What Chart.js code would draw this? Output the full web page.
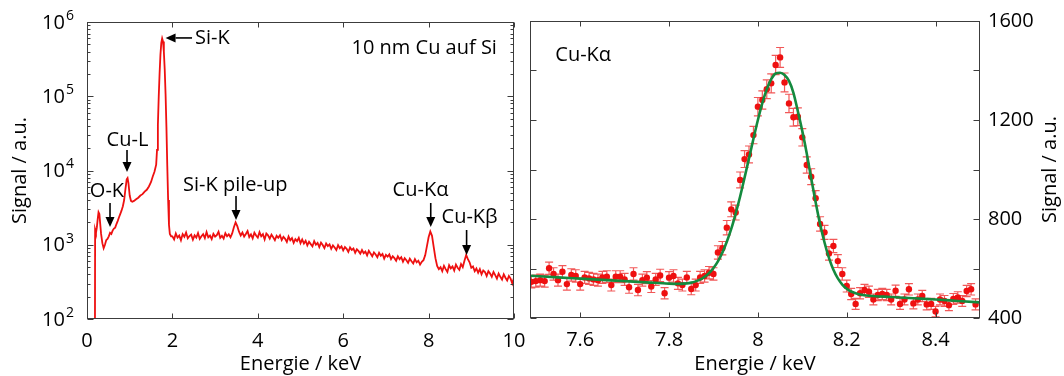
<!DOCTYPE html>
<html>
<head>
<meta charset="utf-8">
<script src="https://cdn.jsdelivr.net/npm/chart.js@4.4.1/dist/chart.umd.min.js"></script>
<style>
html,body{margin:0;padding:0;background:#fff;}
#wrap{position:relative;width:1064px;height:376px;overflow:hidden;}
#wrap canvas{position:absolute;left:0;top:0;}
</style>
</head>
<body>
<div id="wrap">
<canvas id="leftChart" width="1064" height="376"></canvas>
<canvas id="rightChart" width="1064" height="376"></canvas>
</div>
<script>
// ---------------- DATA ----------------
// Left panel: full EDX spectrum (energy in keV, signal in a.u.)
const spectrumEnergy = [
0.185,0.19,0.21,0.23,0.25,0.27,0.29,0.31,0.33,0.36,0.39,0.42,0.45,0.48,0.51,0.54,0.57,0.60,0.63,0.66,
0.69,0.72,0.75,0.78,0.81,0.84,0.87,0.90,0.93,0.95,0.97,1.00,1.03,1.06,1.10,1.15,1.20,1.25,1.30,1.35,
1.40,1.45,1.50,1.54,1.58,1.62,1.64,1.66,1.68,1.70,1.72,1.74,1.76,1.78,1.80,1.82,1.84,1.86,1.88,1.90,
1.92,1.94,1.97,
2.00,2.04,2.08,2.12,2.16,2.20,2.24,2.28,2.32,2.36,2.40,2.44,2.48,2.52,2.56,2.60,2.64,2.68,2.72,2.76,
2.80,2.84,2.88,2.92,2.96,3.00,3.04,3.08,3.12,3.16,3.20,3.24,3.28,3.32,3.36,
3.40,3.44,3.48,3.52,3.56,3.60,
3.64,3.68,3.72,3.76,3.80,3.84,3.88,3.92,3.96,4.00,4.04,4.08,4.12,4.16,4.20,4.24,4.28,4.32,4.36,4.40,
4.44,4.48,4.52,4.56,4.60,4.64,4.68,4.72,4.76,4.80,4.84,4.88,4.92,4.96,5.00,
5.04,5.08,5.12,5.16,5.20,5.24,5.28,5.32,5.36,5.40,5.44,5.48,5.52,5.56,5.60,5.64,5.68,5.72,5.76,5.80,
5.84,5.88,5.92,5.96,6.00,6.04,6.08,6.12,6.16,6.20,6.24,6.28,6.32,6.36,6.40,
6.44,6.48,6.52,6.56,6.60,6.64,6.68,6.72,6.76,6.80,6.84,6.88,6.92,6.96,7.00,7.04,7.08,7.12,7.16,7.20,
7.24,7.28,7.32,7.36,7.40,7.44,7.48,7.52,7.56,7.60,7.64,7.68,7.72,7.76,7.80,
7.84,7.88,7.92,7.96,8.00,8.04,8.08,8.12,8.16,8.20,8.24,
8.28,8.32,8.36,8.40,8.44,8.48,8.52,8.56,8.60,8.64,8.68,8.72,8.76,8.80,
8.84,8.88,8.92,8.96,9.00,
9.04,9.08,9.12,9.16,9.20,9.24,9.28,9.32,9.36,9.40,9.44,9.48,9.52,9.56,9.60,9.64,9.68,9.72,9.76,9.80,
9.84,9.88,9.92,9.96,10.00
];
const spectrumSignal = [
20,1600,1450,1700,2200,2750,2600,1900,1400,1050,900,1000,1150,1200,1300,1450,1400,1550,1650,1700,
1900,2100,2350,2600,2900,3300,4000,5600,7600,7900,6800,4600,3900,3800,3900,4100,4300,4600,4800,5200,
5500,6100,7000,8300,9600,12000,19000,41000,99000,202000,364000,523000,600000,547000,398000,231000,107000,39000,11600,4000,
1850,1400,1300,
1300,1180,1420,1250,1330,1150,1390,1280,1460,1220,1310,1370,1170,1340,1250,1440,1200,1300,1390,1230,
1480,1260,1330,1190,1400,1290,1350,1500,1240,1320,1210,1430,1300,1380,1260,
1420,1720,2000,1780,1500,1330,
1460,1290,1400,1530,1270,1380,1220,1450,1330,1250,1480,1300,1390,1180,1420,1340,1210,1370,1260,1150,
1320,1240,1340,1160,1280,1200,1090,1290,1150,1230,1060,1190,1120,1240,1050,
1180,1040,1130,980,1100,1020,950,1120,1000,1060,930,1070,990,900,1040,960,1010,880,980,920,
850,990,900,950,840,930,880,800,920,850,890,780,870,820,760,
850,770,810,720,830,760,700,790,740,680,780,710,750,650,730,690,740,640,700,660,
610,700,640,680,590,660,620,570,650,600,560,640,580,610,540,
590,620,720,950,1260,1510,1320,930,660,520,470,
500,440,520,470,430,530,480,510,450,540,490,460,550,500,
610,730,640,580,490,
510,440,480,420,470,400,450,430,380,440,410,370,430,390,350,410,370,340,400,360,
330,380,350,300,360
];

// Right panel: Cu-Kα detail, measured points with error bars and fit
const kaEnergy = [
7.49,7.50,7.51,7.52,7.53,7.54,7.55,7.56,7.57,7.58,7.59,7.60,7.61,7.62,7.63,7.64,7.65,7.66,7.67,7.68,
7.69,7.70,7.71,7.72,7.73,7.74,7.75,7.76,7.77,7.78,7.79,7.80,7.81,7.82,7.83,7.84,7.85,7.86,7.87,7.88,
7.89,7.90,7.91,7.92,7.93,7.94,7.95,7.96,7.97,7.98,7.99,8.00,8.01,8.02,8.03,8.04,8.05,8.06,8.07,8.08,
8.09,8.10,8.11,8.12,8.13,8.14,8.15,8.16,8.17,8.18,8.19,8.20,8.21,8.22,8.23,8.24,8.25,8.26,8.27,8.28,
8.29,8.30,8.31,8.32,8.33,8.34,8.35,8.36,8.37,8.38,8.39,8.40,8.41,8.42,8.43,8.44,8.45,8.46,8.47,8.48,
8.49
];
const kaSignal = [
546,549,553,549,601,578,553,587,537,574,570,537,564,560,556,553,564,567,533,567,
567,556,524,578,513,553,563,527,556,572,500,563,570,540,533,564,517,533,564,570,
583,578,665,682,765,839,826,958,1042,1061,1139,1254,1281,1324,1348,1422,1453,1352,1267,1211,
1213,1130,1018,971,884,780,746,661,691,630,578,529,497,457,500,513,506,475,493,497,
493,475,510,457,475,516,459,475,489,455,457,426,475,469,452,477,483,469,509,516,
455
];
const kaError = [
24,24,24,24,25,25,24,25,24,25,25,24,24,24,24,24,24,24,24,24,
24,24,24,25,23,24,24,24,24,25,23,24,25,24,24,24,23,24,24,25,
25,25,27,27,29,30,30,32,34,34,35,37,37,38,38,39,40,38,37,36,
36,35,33,32,31,29,28,27,27,26,25,24,23,22,23,23,23,22,23,23,
23,22,23,22,22,23,22,22,23,22,22,21,22,22,22,22,23,22,23,23,
22
];
const fitEnergy = [
7.487,7.55,7.60,7.65,7.70,7.75,7.80,7.82,7.84,7.85,7.86,7.87,7.88,7.89,
7.90,7.91,7.92,7.93,7.94,7.95,7.96,7.97,7.98,7.99,
8.00,8.01,8.02,8.03,8.04,8.05,8.06,8.07,8.08,8.09,
8.10,8.11,8.12,8.13,8.14,8.15,8.16,8.17,8.18,8.19,
8.20,8.21,8.22,8.23,8.24,8.25,8.30,8.35,8.40,8.45,8.50
];
const fitSignal = [
571,564,559,554,549,544,539,538,540,543,548,555,566,581,
602,629,664,708,760,822,891,967,1045,1124,
1200,1268,1324,1365,1388,1391,1382,1358,1310,1235,
1155,1065,965,868,780,705,643,595,560,535,
518,507,500,495,492,490,485,480,475,469,463
];

// Tick values and labels
const leftXTicks = [0, 2, 4, 6, 8, 10];
const leftXLabels = ['0', '2', '4', '6', '8', '10'];
const leftYTicks = [1e2, 1e3, 1e4, 1e5, 1e6];
const leftYExponents = ['2', '3', '4', '5', '6'];
const rightXTicks = [7.6, 7.8, 8.0, 8.2, 8.4];
const rightXLabels = ['7.6', '7.8', '8', '8.2', '8.4'];
const rightYTicks = [400, 600, 800, 1000, 1200, 1400, 1600];
const rightYLabels = ['400', '', '800', '', '1200', '', '1600'];

// Peak annotations (labels) for left panel
const peakLabels = ['O-K', 'Cu-L', 'Si-K', 'Si-K pile-up', 'Cu-K\u03B1', 'Cu-K\u03B2'];

// ---------------- LAYOUT / STYLE ----------------
const FONT = '"Open Sans", "DejaVu Sans", sans-serif';
const AXIS_COLOR = '#3c3c3c';
const RED = 'rgb(238,16,16)';
const GREEN = 'rgb(20,138,62)';

Chart.defaults.font.family = FONT;
Chart.defaults.font.size = 20;
Chart.defaults.color = '#000';

// annotation geometry in data coordinates (keV, signal)
const peakLabelPos = [
  {tx:0.468, ty:5300, align:'center', ax:0.539, from:3650, to:1730},
  {tx:0.948, ty:25800, align:'center', ax:0.937, from:18900, to:9550},
  {tx:2.53, ty:610000, align:'left', horiz:true, ay:610000, from:2.46, to:1.84},
  {tx:2.25, ty:6380, align:'left', ax:3.49, from:4540, to:2150},
  {tx:7.81, ty:5460, align:'center', ax:8.05, from:3650, to:1730},
  {tx:8.96, ty:2370, align:'center', ax:8.89, from:1580, to:728}
];

function drawArrow(ctx, x1, y1, x2, y2) {
  const ang = Math.atan2(y2 - y1, x2 - x1);
  const hl = 10, hw = 4.5;
  const bx = x2 - hl * Math.cos(ang), by = y2 - hl * Math.sin(ang);
  ctx.beginPath();
  ctx.moveTo(x1, y1);
  ctx.lineTo(bx, by);
  ctx.lineWidth = 1.6;
  ctx.strokeStyle = '#000';
  ctx.stroke();
  ctx.beginPath();
  ctx.moveTo(x2, y2);
  ctx.lineTo(bx + hw * Math.sin(ang), by - hw * Math.cos(ang));
  ctx.lineTo(bx - hw * Math.sin(ang), by + hw * Math.cos(ang));
  ctx.closePath();
  ctx.fillStyle = '#000';
  ctx.fill();
}

function frameRect(ctx, a) {
  const L = Math.round(a.left) + 0.5, R = Math.round(a.right) - 0.5;
  const T = Math.round(a.top) + 0.5, B = Math.round(a.bottom) - 0.5;
  ctx.strokeStyle = AXIS_COLOR;
  ctx.lineWidth = 1;
  ctx.strokeRect(L, T, R - L, B - T);
  return {L, R, T, B};
}

const leftDecor = {
  id: 'leftDecor',
  afterDraw(chart) {
    const {ctx, chartArea: a, scales: {x, y}} = chart;
    ctx.save();
    const {L, R, T, B} = frameRect(ctx, a);
    ctx.beginPath();
    leftXTicks.forEach(v => {
      const px = Math.round(x.getPixelForValue(v)) + 0.5;
      ctx.moveTo(px, B); ctx.lineTo(px, B - 5);
      ctx.moveTo(px, T); ctx.lineTo(px, T + 5);
    });
    leftYTicks.forEach((v, i) => {
      const py = Math.round(y.getPixelForValue(v)) + 0.5;
      ctx.moveTo(L, py); ctx.lineTo(L + 6, py);
      ctx.moveTo(R, py); ctx.lineTo(R - 6, py);
      if (i < leftYTicks.length - 1) {
        for (let m = 2; m <= 9; m++) {
          const q = Math.round(y.getPixelForValue(v * m)) + 0.5;
          ctx.moveTo(L, q); ctx.lineTo(L + 3, q);
          ctx.moveTo(R, q); ctx.lineTo(R - 3, q);
        }
      }
    });
    ctx.stroke();

    // y tick labels 10^n
    ctx.fillStyle = '#000';
    ctx.textBaseline = 'middle';
    leftYTicks.forEach((v, i) => {
      const py = y.getPixelForValue(v);
      const right = a.left - 13;
      ctx.font = '14px ' + FONT;
      const sw = ctx.measureText(leftYExponents[i]).width;
      ctx.textAlign = 'left';
      ctx.fillText(leftYExponents[i], right - sw, py - 6);
      ctx.font = '20px ' + FONT;
      ctx.textAlign = 'right';
      ctx.fillText('10', right - sw - 1, py + 1);
    });

    // annotations
    peakLabelPos.forEach((p, i) => {
      if (p.horiz) {
        const yy = y.getPixelForValue(p.ay);
        drawArrow(ctx, x.getPixelForValue(p.from), yy, x.getPixelForValue(p.to), yy);
      } else {
        const xx = x.getPixelForValue(p.ax);
        drawArrow(ctx, xx, y.getPixelForValue(p.from), xx, y.getPixelForValue(p.to));
      }
      ctx.font = '20px ' + FONT;
      ctx.fillStyle = '#000';
      ctx.textAlign = p.align;
      ctx.textBaseline = 'middle';
      ctx.fillText(peakLabels[i], x.getPixelForValue(p.tx), y.getPixelForValue(p.ty));
    });
    ctx.textAlign = 'right';
    ctx.fillText('10 nm Cu auf Si', x.getPixelForValue(9.60), y.getPixelForValue(446700));
    ctx.restore();
  }
};

const rightDecor = {
  id: 'rightDecor',
  beforeDatasetsDraw(chart) {
    const {ctx, chartArea: a, scales: {x, y}} = chart;
    ctx.save();
    ctx.beginPath();
    ctx.rect(a.left, a.top, a.right - a.left, a.bottom - a.top);
    ctx.clip();
    ctx.strokeStyle = 'rgba(236,24,24,0.72)';
    ctx.lineWidth = 1.2;
    ctx.beginPath();
    kaEnergy.forEach((e, i) => {
      const px = x.getPixelForValue(e);
      const y1 = y.getPixelForValue(kaSignal[i] - kaError[i]);
      const y2 = y.getPixelForValue(kaSignal[i] + kaError[i]);
      ctx.moveTo(px, y1); ctx.lineTo(px, y2);
      ctx.moveTo(px - 4, y1); ctx.lineTo(px + 4, y1);
      ctx.moveTo(px - 4, y2); ctx.lineTo(px + 4, y2);
    });
    ctx.stroke();
    ctx.restore();
  },
  afterDraw(chart) {
    const {ctx, chartArea: a, scales: {x, y}} = chart;
    ctx.save();
    const {L, R, T, B} = frameRect(ctx, a);
    ctx.beginPath();
    rightXTicks.forEach(v => {
      const px = Math.round(x.getPixelForValue(v)) + 0.5;
      ctx.moveTo(px, B); ctx.lineTo(px, B - 5);
      ctx.moveTo(px, T); ctx.lineTo(px, T + 5);
    });
    rightYTicks.forEach(v => {
      const py = Math.round(y.getPixelForValue(v)) + 0.5;
      ctx.moveTo(L, py); ctx.lineTo(L + 6, py);
      ctx.moveTo(R, py); ctx.lineTo(R - 6, py);
    });
    ctx.stroke();
    ctx.fillStyle = '#000';
    ctx.font = '20px ' + FONT;
    ctx.textBaseline = 'middle';
    ctx.textAlign = 'left';
    ctx.fillText('Cu-K\u03B1', x.getPixelForValue(7.544), y.getPixelForValue(1463));
    // right axis title, reading bottom-to-top
    ctx.translate(1050, (a.top + a.bottom) / 2);
    ctx.rotate(-Math.PI / 2);
    ctx.textAlign = 'center';
    ctx.fillText('Signal / a.u.', 0, 0);
    ctx.restore();
  }
};

// ---------------- LEFT CHART ----------------
new Chart(document.getElementById('leftChart'), {
  type: 'line',
  data: {
    datasets: [{
      data: spectrumEnergy.map((e, i) => ({x: e, y: spectrumSignal[i]})),
      borderColor: RED,
      borderWidth: 1.8,
      pointRadius: 0,
      tension: 0,
      fill: false
    }]
  },
  options: {
    responsive: false,
    animation: false,
    events: [],
    layout: {padding: {left: 0, top: 22, right: 550, bottom: 0}},
    plugins: {legend: {display: false}, tooltip: {enabled: false}},
    scales: {
      x: {
        type: 'linear', min: 0, max: 10,
        grid: {display: false, drawTicks: false},
        border: {display: false},
        ticks: {padding: 10, maxRotation: 0, minRotation: 0, font: {size: 20},
                callback: (v, i) => leftXLabels[i]},
        afterBuildTicks: s => { s.ticks = leftXTicks.map(v => ({value: v})); },
        afterFit: s => { s.height = 57; },
        title: {display: true, text: 'Energie / keV', font: {size: 20}, padding: {top: 0, bottom: 0}}
      },
      y: {
        type: 'logarithmic', min: 100, max: 1e6,
        grid: {display: false, drawTicks: false},
        border: {display: false},
        ticks: {display: false},
        afterFit: s => { s.width = 87; },
        title: {display: true, text: 'Signal / a.u.', font: {size: 20}, padding: {top: 8, bottom: 0}}
      }
    }
  },
  plugins: [leftDecor]
});

// ---------------- RIGHT CHART ----------------
new Chart(document.getElementById('rightChart'), {
  type: 'line',
  data: {
    datasets: [{
      data: fitEnergy.map((e, i) => ({x: e, y: fitSignal[i]})),
      borderColor: GREEN,
      borderWidth: 2.6,
      pointRadius: 0,
      cubicInterpolationMode: 'monotone',
      fill: false
    }, {
      data: kaEnergy.map((e, i) => ({x: e, y: kaSignal[i]})),
      showLine: false,
      pointRadius: 3.2,
      pointBackgroundColor: RED,
      pointBorderWidth: 0,
      borderColor: RED
    }]
  },
  options: {
    responsive: false,
    animation: false,
    events: [],
    layout: {padding: {left: 530, top: 21, right: 0, bottom: 0}},
    plugins: {legend: {display: false}, tooltip: {enabled: false}},
    scales: {
      x: {
        type: 'linear', min: 7.487, max: 8.5,
        grid: {display: false, drawTicks: false},
        border: {display: false},
        ticks: {padding: 10, maxRotation: 0, minRotation: 0, font: {size: 20},
                callback: (v, i) => rightXLabels[i]},
        afterBuildTicks: s => { s.ticks = rightXTicks.map(v => ({value: v})); },
        afterFit: s => { s.height = 58; },
        title: {display: true, text: 'Energie / keV', font: {size: 20}, padding: {top: 0, bottom: 0}}
      },
      y: {
        type: 'linear', position: 'right', min: 400, max: 1600,
        grid: {display: false, drawTicks: false},
        border: {display: false},
        ticks: {padding: 8, font: {size: 20}, autoSkip: false,
                callback: (v, i) => rightYLabels[i]},
        afterBuildTicks: s => { s.ticks = rightYTicks.map(v => ({value: v})); },
        afterFit: s => { s.width = 84; }
      }
    }
  },
  plugins: [rightDecor]
});
</script>
</body>
</html>
